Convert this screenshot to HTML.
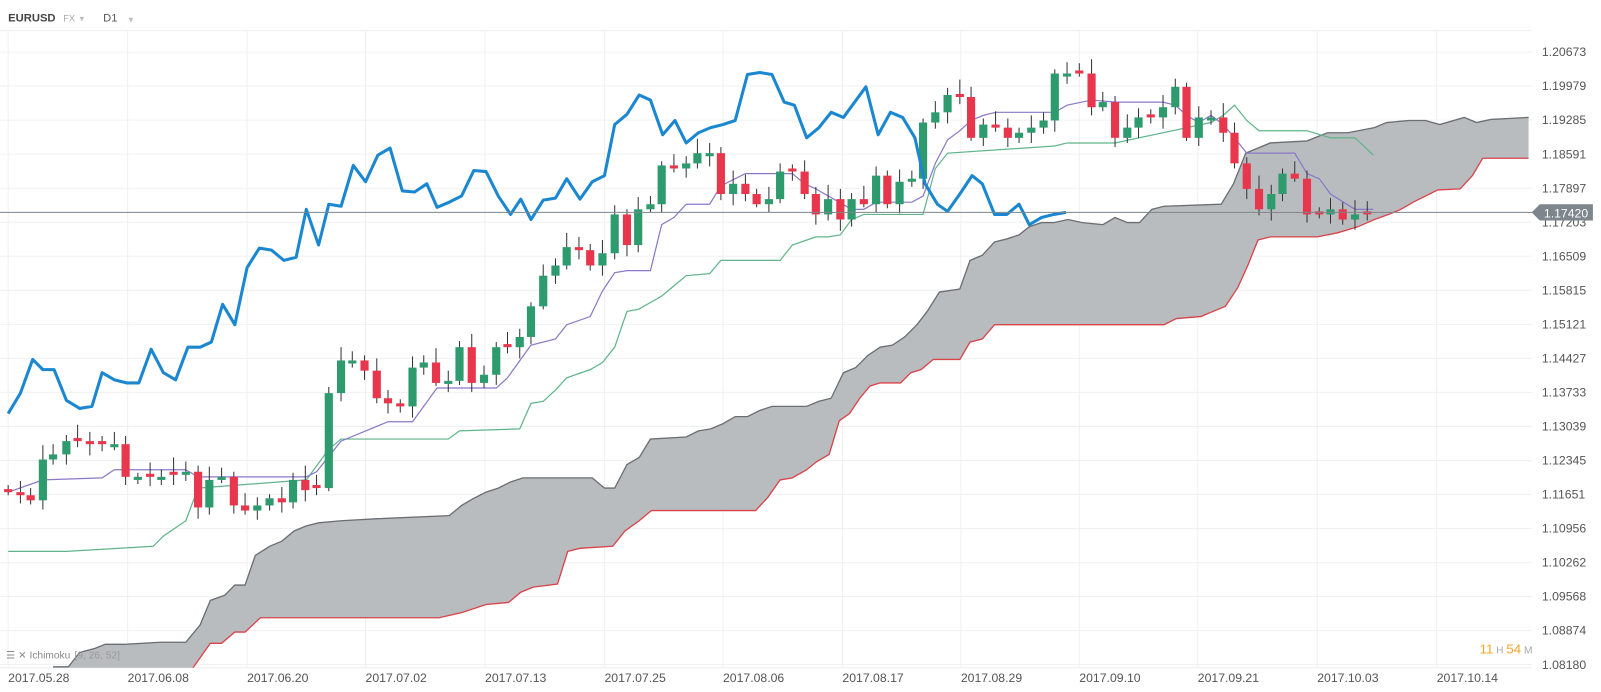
<!DOCTYPE html>
<html><head><meta charset="utf-8"><style>
html,body{margin:0;padding:0;background:#fff;width:1601px;height:692px;overflow:hidden;font-family:"Liberation Sans",sans-serif}
svg{display:block}
</style></head><body>
<svg id="s" width="1601" height="692" xmlns="http://www.w3.org/2000/svg"></svg>
<script>
const s=document.getElementById('s');let h='<g transform="scale(1.0211)">';
for(let i=0;i<19;i++){const y=51+i*33.33;h+=`<line x1="0" x2="1500" y1="${y}" y2="${y}" stroke="#f0f0f0"/>`;}
const dx=[8,125,242,358,475,592,708,825,941,1057,1173,1290,1407];
const dl=['2017.05.28','2017.06.08','2017.06.20','2017.07.02','2017.07.13','2017.07.25','2017.08.06','2017.08.17','2017.08.29','2017.09.10','2017.09.21','2017.10.03','2017.10.14'];
dx.forEach((x,i)=>{h+=`<line x1="${x}" x2="${x}" y1="30" y2="654" stroke="#f0f0f0"/>`;});
h+=`<line x1="0" x2="1500" y1="30" y2="30" stroke="#eee"/><line x1="0" x2="1500" y1="654" y2="654" stroke="#eee"/>`;
const pl=['1.20673','1.19979','1.19285','1.18591','1.17897','1.17203','1.16509','1.15815','1.15121','1.14427','1.13733','1.13039','1.12345','1.11651','1.10956','1.10262','1.09568','1.08874','1.08180'];
pl.forEach((p,i)=>{h+=`<text x="1510" y="${55+i*33.33}" font-size="12" fill="#555">${p}</text>`;});
const P=a=>a.map(p=>p.join(',')).join(' ');
const up=[[52,653],[67,653],[78,639],[93,635],[103,631],[122,631],[157,629],[182,629],[196,612],[206,588],[220,583],[230,573],[240,573],[250,544],[264,535],[276,530],[288,520],[300,515],[312,512],[334,510],[370,508],[440,505],[452,495],[464,488],[476,482],[488,478],[500,472],[512,468],[580,468],[592,478],[602,478],[614,455],[626,448],[637,430],[672,428],[684,422],[696,420],[708,415],[720,408],[732,408],[744,402],[756,398],[790,398],[802,393],[814,390],[826,365],[838,360],[850,348],[862,340],[874,338],[886,330],[898,318],[908,305],[920,286],[940,283],[950,255],[962,250],[974,237],[986,234],[998,230],[1008,222],[1020,218],[1032,218],[1046,215],[1060,218],[1080,220],[1092,213],[1104,218],[1116,218],[1128,205],[1140,202],[1196,200],[1208,180],[1220,150],[1244,140],[1280,138],[1300,130],[1320,130],[1346,125],[1358,120],[1380,118],[1396,118],[1410,122],[1434,115],[1446,120],[1460,117],[1497,115]];
const lo=[[52,700],[185,700],[189,654],[206,630],[217,630],[230,619],[240,619],[255,605],[430,605],[452,600],[464,596],[476,592],[498,590],[510,580],[522,575],[546,572],[556,540],[568,537],[600,535],[612,520],[626,510],[638,500],[740,500],[752,487],[764,470],[776,468],[790,460],[800,452],[812,445],[822,412],[832,405],[842,390],[852,378],[862,375],[882,375],[892,365],[902,362],[914,352],[940,352],[950,335],[962,332],[974,318],[1140,318],[1152,312],[1176,310],[1188,305],[1200,300],[1212,282],[1222,260],[1232,235],[1244,232],[1290,232],[1310,228],[1330,222],[1346,215],[1360,210],[1372,205],[1384,198],[1396,192],[1408,186],[1430,185],[1442,172],[1452,155],[1497,155]];
h+=`<clipPath id="c"><rect x="0" y="30" width="1500" height="624"/></clipPath><g clip-path="url(#c)">`;
h+=`<polygon points="${P(up)} ${P(lo.slice().reverse())}" fill="#b9bcbf"/>`;
h+=`<polyline points="${P(up)}" fill="none" stroke="#6b6e72" stroke-width="1.3"/>`;
h+=`<polyline points="${P(lo.slice(2))}" fill="none" stroke="#d9434a" stroke-width="1.3"/>`;
const gr=[[8,540],[65,540],[150,535],[160,525],[182,510],[194,478],[300,470],[322,440],[334,430],[439,430],[450,422],[509,420],[520,395],[532,393],[544,382],[555,370],[578,362],[590,355],[602,340],[614,305],[625,303],[648,290],[660,280],[672,270],[695,268],[706,255],[764,255],[776,240],[799,232],[811,232],[823,230],[834,215],[846,210],[904,210],[916,165],[928,150],[1033,143],[1045,140],[1092,140],[1186,120],[1198,113],[1209,103],[1221,118],[1233,128],[1280,128],[1303,135],[1327,135],[1345,152]];
h+=`<polyline points="${P(gr)}" fill="none" stroke="#5fb58a" stroke-width="1.2"/>`;
const pu=[[8,482],[42,470],[100,468],[112,460],[182,460],[194,467],[300,467],[310,462],[334,432],[380,413],[404,413],[428,380],[486,380],[497,370],[520,338],[544,332],[555,318],[578,310],[590,285],[602,267],[614,265],[637,265],[648,220],[660,213],[672,200],[695,200],[706,182],[730,170],[776,170],[788,180],[799,185],[834,205],[846,205],[858,198],[893,198],[904,192],[916,160],[928,137],[940,128],[951,118],[963,113],[975,110],[1033,110],[1045,103],[1069,98],[1092,100],[1139,100],[1151,103],[1162,113],[1174,120],[1186,113],[1198,122],[1209,135],[1221,150],[1268,150],[1280,170],[1292,175],[1303,190],[1327,205],[1345,205]];
h+=`<polyline points="${P(pu)}" fill="none" stroke="#8a78c8" stroke-width="1.2"/>`;
const cx=[8,20,30,42,52,65,76,88,100,112,123,135,147,158,170,182,194,205,217,229,240,252,264,276,287,299,310,322,334,345,357,369,380,392,404,415,427,439,450,462,474,486,497,509,520,532,544,555,567,578,590,602,614,625,637,648,660,672,683,695,706,718,730,741,753,764,776,788,799,811,823,834,846,858,869,881,893,904,916,928,940,951,963,975,987,998,1010,1022,1033,1045,1057,1069,1080,1092,1104,1115,1127,1139,1151,1162,1174,1186,1198,1209,1221,1233,1245,1256,1268,1280,1292,1303,1315,1327,1339,1345];
const cc=[482,485,490,450,445,432,432,435,435,435,467,467,467,467,465,462,497,470,467,495,500,495,488,492,470,480,478,385,353,353,363,390,395,398,360,355,375,373,340,375,367,340,340,330,300,270,260,242,245,260,248,210,240,205,200,162,165,160,150,150,190,180,190,200,195,168,168,190,210,195,215,195,200,172,200,178,175,120,110,93,95,135,122,125,135,130,125,118,72,72,72,105,100,135,125,115,115,105,85,135,115,115,130,160,185,205,190,170,175,210,210,205,215,210,210,208];
let prev=480;
for(let i=0;i<cx.length-1;i++){const c=cc[i];let o=prev;if(Math.abs(o-c)<3)o=c+((i%2)?3:-3);const t=Math.min(o,c),b=Math.max(o,c);const k=(i*7)%11;const hi=t-4-k,lw=b+3+((i*5)%9);
const col=c<o?'#2e9b6e':'#e8374d';
h+=`<line x1="${cx[i]}" x2="${cx[i]}" y1="${hi}" y2="${lw}" stroke="#333" stroke-width="1"/><rect x="${cx[i]-4}" y="${t}" width="8" height="${Math.max(2,b-t)}" fill="${col}"/>`;prev=c;}
const bl=[[8,405],[20,385],[32,352],[42,362],[53,362],[65,392],[78,400],[90,398],[100,365],[112,372],[124,375],[136,375],[148,342],[160,365],[172,372],[184,340],[196,340],[207,335],[218,298],[230,318],[242,262],[254,243],[266,245],[278,255],[290,252],[300,205],[312,240],[322,200],[334,202],[346,162],[358,178],[370,152],[382,145],[394,187],[406,188],[418,180],[428,203],[440,198],[452,192],[464,167],[476,168],[488,192],[500,210],[510,195],[520,215],[532,196],[544,194],[555,175],[568,195],[580,178],[592,172],[602,122],[614,112],[626,93],[637,98],[649,132],[661,118],[672,140],[684,130],[696,125],[708,122],[720,118],[732,73],[744,71],[756,73],[768,100],[778,103],[790,135],[802,125],[814,110],[826,115],[848,85],[860,132],[872,110],[884,115],[896,135],[906,180],[918,200],[928,207],[940,190],[952,172],[962,180],[974,210],[986,210],[998,200],[1008,220],[1020,213],[1032,210],[1044,208]];
h+=`<polyline points="${P(bl)}" fill="none" stroke="#1a87d0" stroke-width="3" stroke-linejoin="round"/>`;
h+=`</g>`;
dx.forEach((x,i)=>{h+=`<text x="${x}" y="668" font-size="12" fill="#555">${dl[i]}</text>`;});
h+=`<line x1="0" x2="1505" y1="208" y2="208" stroke="#7d868c" stroke-width="1"/>`;
h+=`<polygon points="1500,208 1508,200 1560,200 1560,216 1508,216" fill="#7d868c"/><text x="1512" y="213" font-size="12" fill="#fff">1.17420</text>`;
h+=`<text x="8" y="21" font-size="11" font-weight="bold" fill="#444">EURUSD</text><text x="62" y="21" font-size="9" fill="#aaa">FX</text><text x="78" y="21" font-size="9" fill="#bbb">▾</text><text x="101" y="21" font-size="11" fill="#555">D1</text><text x="126" y="22" font-size="9" fill="#bbb">▾</text>`;
h+=`<text x="6" y="645" font-size="10" fill="#888">☰ ✕ Ichimoku</text><text x="73" y="645" font-size="10" fill="#999">[9, 26, 52]</text>`;
h+=`<text x="1449" y="640" font-size="13" fill="#f5a623">11<tspan fill="#aaa" font-size="10"> H </tspan>54<tspan fill="#aaa" font-size="10"> M</tspan></text>`;
h+='</g>';
s.innerHTML=h;
</script>
</body></html>
